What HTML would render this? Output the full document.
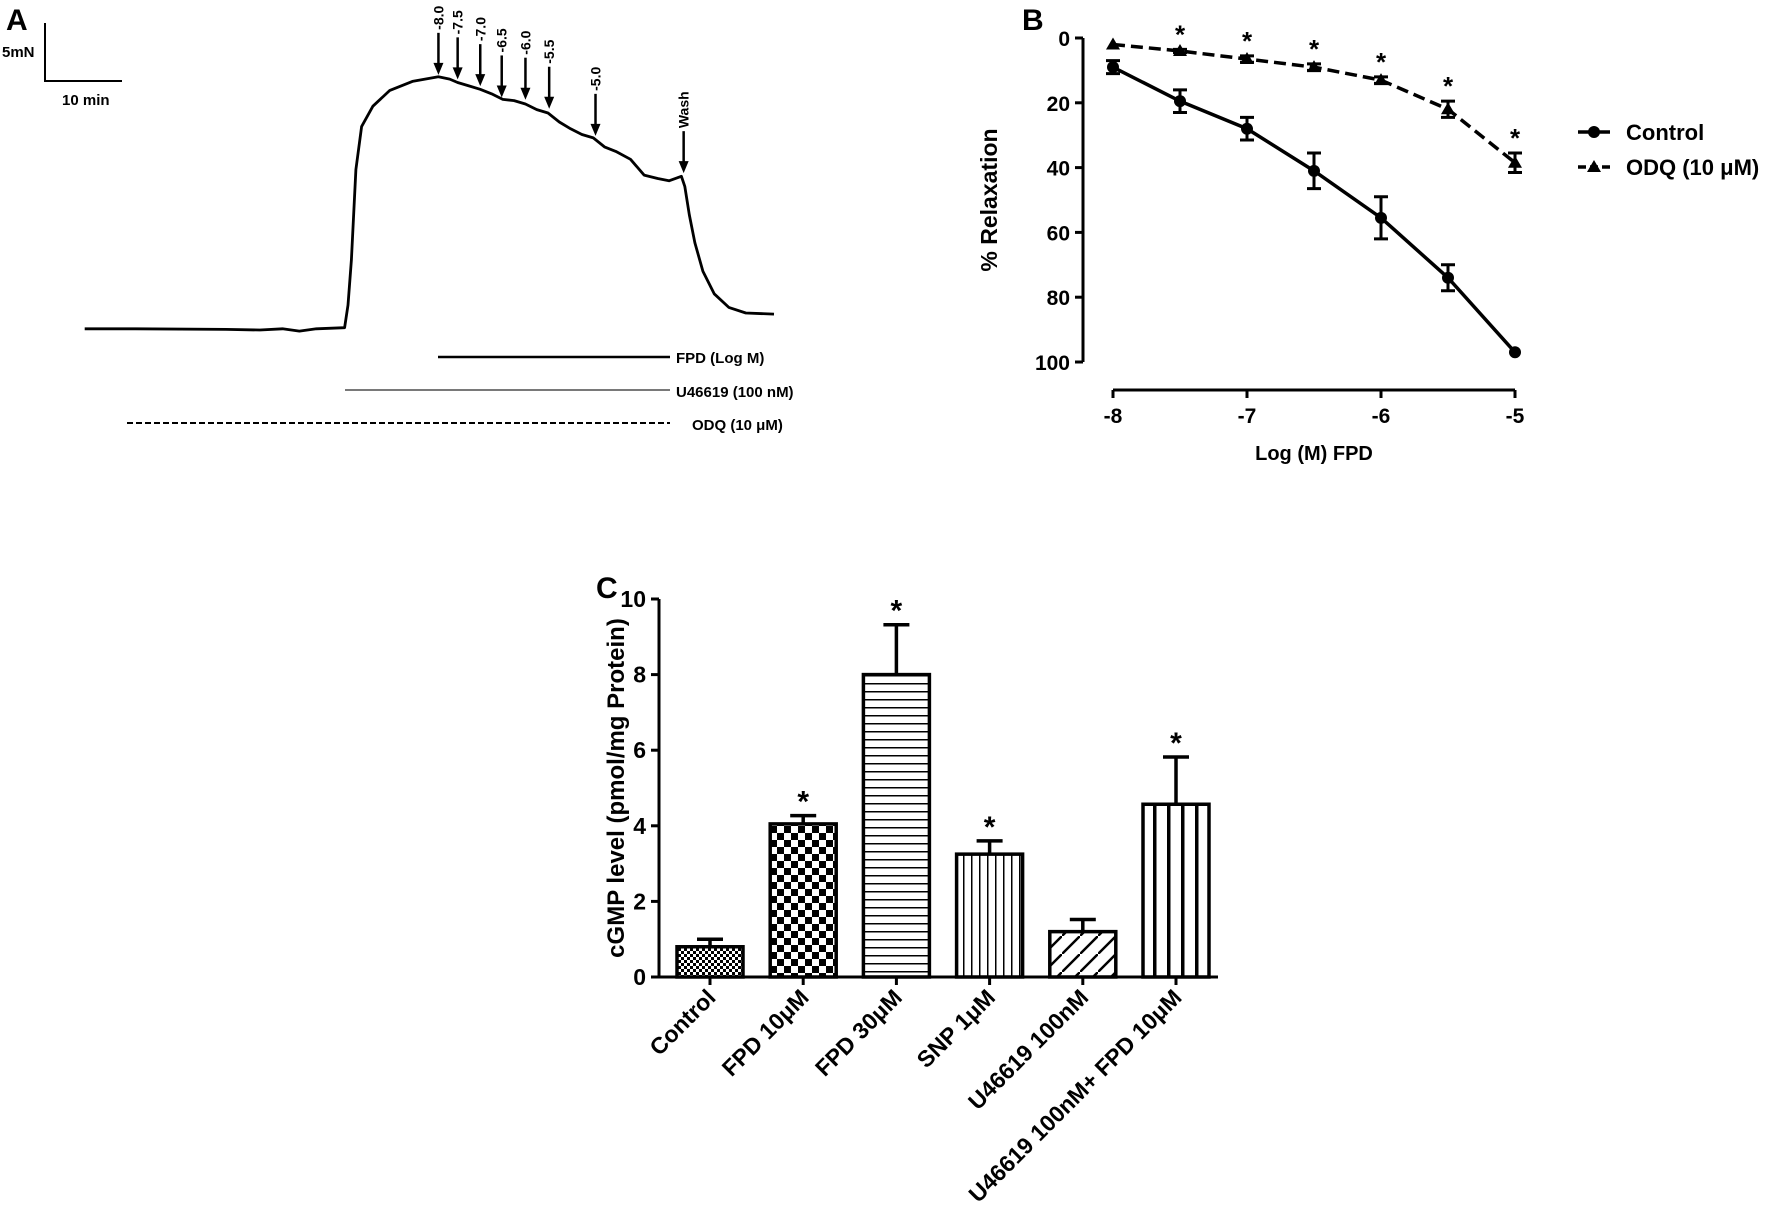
<!DOCTYPE html>
<html><head><meta charset="utf-8"><style>
body{margin:0;background:#fff;width:1772px;height:1224px;overflow:hidden}
svg{display:block;font-family:"Liberation Sans",sans-serif;font-weight:bold}
</style></head><body>
<svg id="s" width="1772" height="1224" viewBox="0 0 1772 1224" xmlns="http://www.w3.org/2000/svg">
<defs>
<pattern id="pFine" width="6" height="6" patternUnits="userSpaceOnUse"><rect width="6" height="6" fill="#fff"/><rect width="3" height="3" fill="#000"/><rect x="3" y="3" width="3" height="3" fill="#000"/></pattern>
<pattern id="pCheck" width="14" height="14" patternUnits="userSpaceOnUse"><rect width="14" height="14" fill="#fff"/><rect width="7" height="7" fill="#000"/><rect x="7" y="7" width="7" height="7" fill="#000"/></pattern>
<pattern id="pHoriz" width="8" height="8" patternUnits="userSpaceOnUse"><rect width="8" height="8" fill="#fff"/><rect y="3" width="8" height="1.5" fill="#000"/></pattern>
<pattern id="pVert" width="8" height="8" patternUnits="userSpaceOnUse"><rect width="8" height="8" fill="#fff"/><rect x="3" width="1.5" height="8" fill="#000"/></pattern>
<pattern id="pDiag" width="18" height="18" patternUnits="userSpaceOnUse"><rect width="18" height="18" fill="#fff"/><path d="M-2,20 L20,-2" stroke="#000" stroke-width="2.5"/></pattern>
<pattern id="pVertThick" width="14" height="14" patternUnits="userSpaceOnUse"><rect width="14" height="14" fill="#fff"/><rect x="5" width="3.5" height="14" fill="#000"/></pattern>
</defs>

<g>
<text x="6" y="30" font-size="30">A</text>
<path d="M45,23 V81 H122" stroke="#000" stroke-width="2" fill="none"/>
<text x="2" y="57" font-size="15">5mN</text>
<text x="62" y="105" font-size="15">10 min</text>
<path id="trace" fill="none" stroke="#000" stroke-width="2.8" stroke-linejoin="round"/>
<g id="arrows"></g>
<line x1="438" y1="357" x2="670" y2="357" stroke="#000" stroke-width="2.5"/>
<text x="676" y="363" font-size="15">FPD (Log M)</text>
<line x1="345" y1="390" x2="670" y2="390" stroke="#666" stroke-width="1.8"/>
<text x="676" y="397" font-size="15">U46619 (100 nM)</text>
<line x1="127" y1="423" x2="670" y2="423" stroke="#000" stroke-width="2" stroke-dasharray="6,3"/>
<text x="692" y="430" font-size="15">ODQ (10 μM)</text>
</g>

<g id="panelB">
<text x="1022" y="30" font-size="30">B</text>
</g>
<g id="panelC">
<text x="596" y="598" font-size="30">C</text>
</g>
</svg>
<script>
const NS='http://www.w3.org/2000/svg';
function mk(tag,attrs,parent,txt){const e=document.createElementNS(NS,tag);for(const k in attrs)e.setAttribute(k,attrs[k]);if(txt!==undefined)e.textContent=txt;parent.appendChild(e);return e;}

// ---------- Panel A trace ----------
const tracePts=[[75,291],[120,291],[200,291.5],[230,292],[250,291],[265,293],[280,291],[305,290],[308,270],[311,230],[315,150],[320,112],[330,94],[345,80],[365,72],[388,68],[398,70],[405,73],[415,76],[425,79],[435,83],[445,88],[455,89],[465,92],[475,97],[485,100],[495,108],[505,114],[515,119],[525,122],[535,130],[545,134],[558,141],[570,155],[582,158],[592,160],[603,156],[606,165],[610,190],[615,215],[622,240],[632,260],[645,272],[660,277],[685,278]];
document.getElementById('trace').setAttribute('d',tracePts.map((p,i)=>(i?'L':'M')+(p[0]*1.13).toFixed(1)+','+(p[1]*1.13).toFixed(1)).join(' '));
const arrowLabels=['-8.0','-7.5','-7.0','-6.5','-6.0','-5.5','-5.0','Wash'];
const arrowX=[388,405,425,444,465,486,527,605];
const arrowTip=[68,72,78,88,90,98,122,155];
const ag=document.getElementById('arrows');
arrowLabels.forEach((l,i)=>{
  const x=arrowX[i]*1.13, ty=arrowTip[i]*1.13-2, top=ty-42;
  const ln=mk('line',{x1:x,y1:top,x2:x,y2:ty-8,stroke:'#000','stroke-width':2.5},ag);
  
  
  mk('path',{d:`M${x-5},${ty-12} L${x+5},${ty-12} L${x},${ty} Z`,fill:'#000'},ag);
  const t=mk('text',{x:0,y:0,'font-size':14,transform:`translate(${x+5},${top-3}) rotate(-90)`},ag,l);
  
  
});

// ---------- Panel B ----------
const bX=[-8,-7.5,-7,-6.5,-6,-5.5,-5];
const ctrlVals=[9,19.5,28,41,55.5,74,97];
const ctrlErr=[2,3.5,3.5,5.5,6.5,4,0];
const odqVals=[2,4,6.5,9,13,22,38.5];
const odqErr=[0,0.5,1,1,1,2.5,3];
const bYTicks=[0,20,40,60,80,100];
const bXTicks=[-8,-7,-6,-5];
const B=document.getElementById('panelB');
const bx=v=>1113+(v+8)/3*402, by=v=>38+v*3.24;
mk('line',{x1:1083,y1:by(0),x2:1083,y2:by(100),stroke:'#000','stroke-width':3},B);
bYTicks.forEach(t=>{mk('line',{x1:1075,y1:by(t),x2:1083,y2:by(t),stroke:'#000','stroke-width':3},B);
 const e=mk('text',{x:1070,y:by(t)+8,'text-anchor':'end','font-size':21},B,t);});
mk('line',{x1:bx(-8),y1:390,x2:bx(-5),y2:390,stroke:'#000','stroke-width':3},B);
bXTicks.forEach(t=>{mk('line',{x1:bx(t),y1:390,x2:bx(t),y2:398,stroke:'#000','stroke-width':3},B);
 const e=mk('text',{x:bx(t),y:423,'text-anchor':'middle','font-size':21},B,t);});
let e=mk('text',{x:1314,y:460,'text-anchor':'middle','font-size':20},B,'Log (M) FPD');
e=mk('text',{x:0,y:0,'text-anchor':'middle','font-size':23,transform:'translate(997,200) rotate(-90)'},B,'% Relaxation');
mk('polyline',{points:bX.map((x,i)=>bx(x)+','+by(odqVals[i])).join(' '),fill:'none',stroke:'#000','stroke-width':3.5,'stroke-dasharray':'12,6'},B);
mk('polyline',{points:bX.map((x,i)=>bx(x)+','+by(ctrlVals[i])).join(' '),fill:'none',stroke:'#000','stroke-width':3.5},B);
function eb(x,v,er){if(!er)return;const X=bx(x);mk('path',{d:`M${X},${by(v-er)}V${by(v+er)}M${X-7},${by(v-er)}H${X+7}M${X-7},${by(v+er)}H${X+7}`,stroke:'#000','stroke-width':3,fill:'none'},B);}
bX.forEach((x,i)=>{eb(x,ctrlVals[i],ctrlErr[i]);eb(x,odqVals[i],odqErr[i]);
 const c=mk('circle',{cx:bx(x),cy:by(ctrlVals[i]),r:6,fill:'#000'},B);
 const X=bx(x),Y=by(odqVals[i]);const t=mk('path',{d:`M${X-7},${Y+5}L${X+7},${Y+5}L${X},${Y-7}Z`,fill:'#000'},B);
 if(i>0){const s=mk('text',{x:X,y:by(odqVals[i]-odqErr[i])-6,'text-anchor':'middle','font-size':26},B,'*');}
});
mk('line',{x1:1578,y1:132,x2:1610,y2:132,stroke:'#000','stroke-width':3.5},B);mk('circle',{cx:1594,cy:132,r:6},B);
e=mk('text',{x:1626,y:140,'font-size':22},B,'Control');
mk('line',{x1:1578,y1:167,x2:1610,y2:167,stroke:'#000','stroke-width':3.5,'stroke-dasharray':'8,4'},B);mk('path',{d:'M1587,172L1601,172L1594,160Z'},B);
e=mk('text',{x:1626,y:175,'font-size':22},B,'ODQ (10 μM)');

// ---------- Panel C ----------
const cCats=['Control','FPD 10μM','FPD 30μM','SNP 1μM','U46619 100nM','U46619 100nM+ FPD 10μM'];
const cVals=[0.8,4.05,8.0,3.25,1.2,4.57];
const cErr=[0.2,0.22,1.32,0.35,0.32,1.25];
const cSig=[false,true,true,true,false,true];
const cTicks=[0,2,4,6,8,10];
const cFills=['pFine','pCheck','pHoriz','pVert','pDiag','pVertThick'];
const C=document.getElementById('panelC');
const cy=v=>977-v*37.8, cx=i=>710+i*93.2;
mk('line',{x1:659,y1:cy(0),x2:659,y2:cy(10),stroke:'#000','stroke-width':3},C);
mk('line',{x1:659,y1:cy(0),x2:1218,y2:cy(0),stroke:'#000','stroke-width':3},C);
cTicks.forEach(t=>{mk('line',{x1:651,y1:cy(t),x2:659,y2:cy(t),stroke:'#000','stroke-width':3},C);
 const e=mk('text',{x:646,y:cy(t)+8,'text-anchor':'end','font-size':23},C,t);});
e=mk('text',{x:0,y:0,'text-anchor':'middle','font-size':24,transform:'translate(624,788) rotate(-90)'},C,'cGMP level (pmol/mg Protein)');
cCats.forEach((c,i)=>{const X=cx(i),w=66;
 const top=cy(cVals[i]+cErr[i]);
 mk('path',{d:`M${X},${cy(cVals[i])}V${top}M${X-13},${top}H${X+13}`,stroke:'#000','stroke-width':3.5,fill:'none'},C);
 const r=mk('rect',{x:X-w/2,y:cy(cVals[i]),width:w,height:cy(0)-cy(cVals[i]),fill:`url(#${cFills[i]})`,stroke:'#000','stroke-width':3.5},C);
 
 if(cSig[i]){const s=mk('text',{x:X,y:top-4,'text-anchor':'middle','font-size':30},C,'*');}
 mk('line',{x1:X,y1:cy(0),x2:X,y2:cy(0)+8,stroke:'#000','stroke-width':3},C);
 const t=mk('text',{x:0,y:0,'text-anchor':'end','font-size':23,transform:`translate(${X+7},${cy(0)+22}) rotate(-45)`},C,c);
 
});
</script>
</body></html>
